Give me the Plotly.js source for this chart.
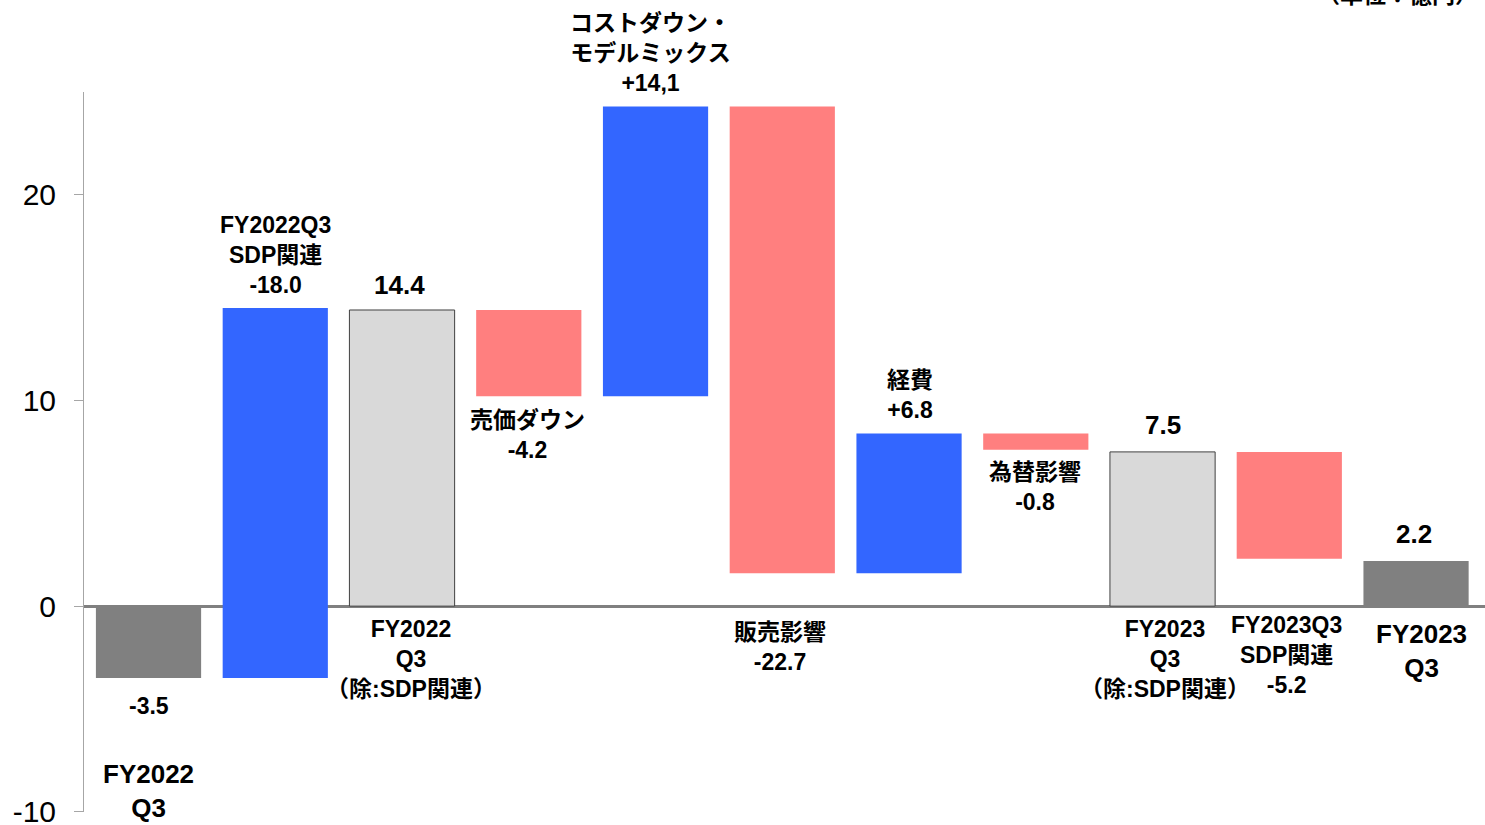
<!DOCTYPE html>
<html>
<head>
<meta charset="utf-8">
<script src="https://cdn.plot.ly/plotly-3.0.1.min.js"></script>
<style>html,body{margin:0;padding:0;background:#fff;}#chart{width:1485px;height:825px;}</style>
</head>
<body>
<div id="chart"></div>
<script>
// ---- data ----
const categories = ['FY2022 Q3', 'FY2022Q3 SDP関連', 'FY2022 Q3（除:SDP関連）', '売価ダウン', 'コストダウン・モデルミックス', '販売影響', '経費', '為替影響', 'FY2023 Q3（除:SDP関連）', 'FY2023Q3 SDP関連', 'FY2023 Q3'];
const values = [-3.5, 18.0, 14.4, -4.2, 14.1, -22.7, 6.8, -0.8, 7.5, -5.2, 2.2];
const measures = ['total', 'relative', 'subtotal', 'relative', 'relative', 'relative', 'relative', 'relative', 'subtotal', 'relative', 'total'];
const valueLabels = ['-3.5', '-18.0', '14.4', '-4.2', '+14,1', '-22.7', '+6.8', '-0.8', '7.5', '-5.2', '2.2'];
const yTicks = [-10, 0, 10, 20];
const unitLabel = '（単位：億円）';

// ---- styles ----
const FONT = 'Liberation Sans, Arial, Noto Sans CJK JP, sans-serif';
const styleFor = {
  total: {color: '#808080', line: '#808080', lw: 0},
  subtotal: {color: '#D9D9D9', line: '#404040', lw: 1},
  up: {color: '#3366FF', line: '#3366FF', lw: 0},
  down: {color: '#FF7F7F', line: '#FF7F7F', lw: 0}
};

// compute bases (waterfall)
let running = 0;
const bases = [], heights = [], kinds = [];
values.forEach((v, i) => {
  if (measures[i] === 'relative') {
    bases.push(running); heights.push(v); running += v;
    kinds.push(v >= 0 ? 'up' : 'down');
  } else {
    bases.push(0); heights.push(v); running = v;
    kinds.push(measures[i]);
  }
});

const xs = categories.map((c, i) => i);

const trace = {
  type: 'bar',
  x: xs,
  y: heights,
  base: bases,
  width: 0.83,
  marker: {
    color: kinds.map(k => styleFor[k].color),
    line: {color: kinds.map(k => styleFor[k].line), width: kinds.map(k => styleFor[k].lw)}
  },
  hoverinfo: 'none',
  showlegend: false
};

// label helpers
function ann(x, y, text, size, extra) {
  return Object.assign({
    x: x, xref: 'x', y: y, yref: 'paper', text: text, showarrow: false,
    xanchor: 'center', yanchor: 'middle', align: 'center',
    font: {family: FONT, size: size, color: '#000', weight: 'bold'}
  }, extra || {});
}
const b = s => '<b>' + s + '</b>';
const L = 23, BIG = 26;

const annotations = [
  ann(0, 0.1472, b(valueLabels[0]), L),
  ann(0, 0.0285, b('FY2022<br>Q3'), BIG),
  ann(1, 0.7736, b('FY2022Q3<br>SDP関連<br>' + valueLabels[1]), L),
  ann(1.98, 0.7319, b(valueLabels[2]), BIG),
  ann(2.07, 0.2125, b('FY2022<br>Q3<br>（除:SDP関連）'), L),
  ann(2.99, 0.5236, b('売価ダウン<br>' + valueLabels[3]), L),
  ann(3.96, 1.0542, b('コストダウン・<br>モデルミックス<br>' + valueLabels[4]), L),
  ann(4.98, 0.2292, b('販売影響<br>' + valueLabels[5]), L),
  ann(6.01, 0.5792, b('経費<br>' + valueLabels[6]), L),
  ann(6.99, 0.4514, b('為替影響<br>' + valueLabels[7]), L),
  ann(8.0, 0.5375, b(valueLabels[8]), BIG),
  ann(8.02, 0.2125, b('FY2023<br>Q3<br>（除:SDP関連）'), L),
  ann(8.98, 0.2174, b('FY2023Q3<br>SDP関連<br>' + valueLabels[9]), L),
  ann(9.98, 0.3861, b(valueLabels[10]), BIG),
  ann(10.04, 0.2236, b('FY2023<br>Q3'), BIG),
  {x: 1, xref: 'paper', y: 1.135, yref: 'paper', text: b(unitLabel), showarrow: false,
   xanchor: 'right', yanchor: 'middle', xshift: -5, font: {family: FONT, size: L, color: '#000'}}
];

const layout = {
  width: 1485, height: 825,
  margin: {l: 84, r: 0, t: 92, b: 13, pad: 0},
  paper_bgcolor: '#fff', plot_bgcolor: '#fff',
  font: {family: FONT, color: '#000'},
  showlegend: false,
  xaxis: {
    type: 'linear', range: [-0.509, 10.544], showticklabels: false, ticks: '',
    showgrid: false, zeroline: false, showline: false, fixedrange: true
  },
  yaxis: {
    range: [-10.01, 25], tickvals: yTicks, ticktext: yTicks.map(String),
    ticks: 'outside', ticklen: 9, tickcolor: '#A6A6A6', tickwidth: 1,
    ticklabelstandoff: 12, ticklabeloverflow: 'allow',
    tickfont: {family: FONT, size: 30, color: '#000'},
    showgrid: false, showline: true, linecolor: '#A6A6A6', linewidth: 1,
    zeroline: true, zerolinecolor: '#808080', zerolinewidth: 3,
    fixedrange: true, automargin: false
  },
  annotations: annotations
};

Plotly.newPlot('chart', [trace], layout, {staticPlot: true, displayModeBar: false});
</script>
</body>
</html>
